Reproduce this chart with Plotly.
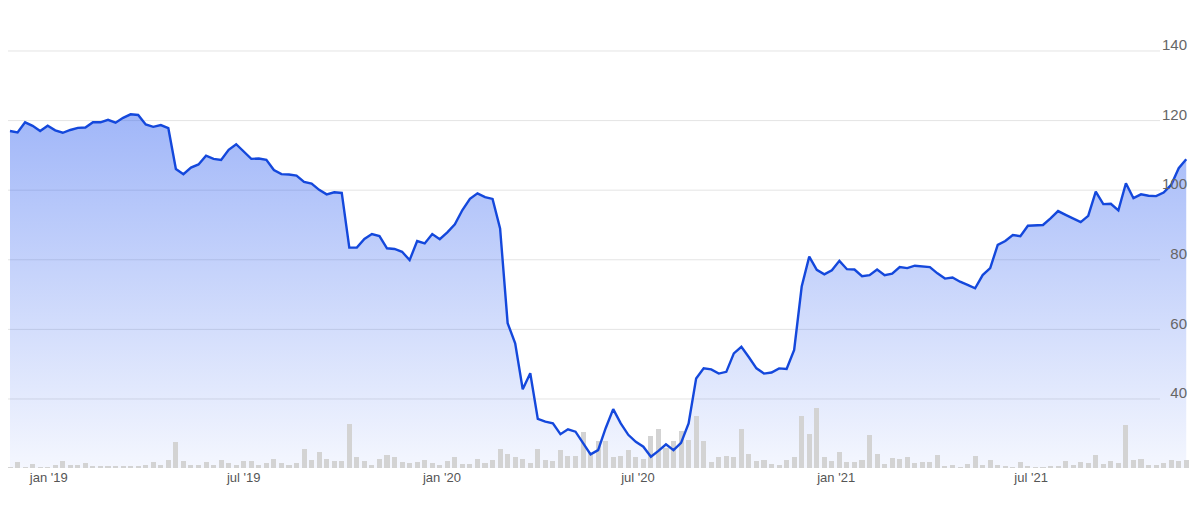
import pandas as pd
import plotly.graph_objects as go

# ---- data (weekly) ----
start_date = "2018-11-26"
price = [117.0, 116.6, 119.5, 118.5, 117.0, 118.5, 117.2, 116.5, 117.3, 117.9,
         118.0, 119.5, 119.5, 120.2, 119.4, 120.8, 121.8, 121.6, 118.9, 118.2,
         118.7, 117.8, 106.1, 104.6, 106.5, 107.4, 109.9, 109.0, 108.7, 111.6,
         113.2, 111.1, 109.0, 109.1, 108.7, 105.8, 104.6, 104.5, 104.2, 102.4,
         101.9, 100.1, 98.8, 99.4, 99.2, 83.5, 83.5, 86.0, 87.4, 86.8,
         83.3, 83.1, 82.3, 79.9, 85.4, 84.7, 87.4, 85.9, 87.9, 90.2,
         94.3, 97.5, 99.1, 98.0, 97.5, 89.0, 61.8, 56.0, 42.8, 47.4,
         34.3, 33.5, 33.0, 29.9, 31.3, 30.6, 27.4, 24.1, 25.3, 31.6,
         37.1, 33.0, 29.7, 27.7, 26.3, 23.4, 25.1, 27.0, 25.3, 27.4,
         33.0, 45.9, 48.8, 48.5, 47.3, 47.8, 53.1, 55.0, 52.0, 48.8,
         47.3, 47.6, 48.8, 48.6, 54.1, 72.3, 80.9, 77.1, 75.8, 77.0,
         79.7, 77.3, 77.2, 75.3, 75.6, 77.2, 75.6, 76.0, 77.9, 77.6,
         78.3, 78.0, 77.9, 76.1, 74.6, 74.9, 73.7, 72.8, 71.8, 75.6,
         77.6, 84.3, 85.4, 87.1, 86.8, 89.8, 89.9, 90.0, 91.9, 94.0,
         92.9, 91.9, 90.8, 92.6, 99.6, 96.0, 96.1, 94.2, 102.0, 97.7,
         98.8, 98.4, 98.3, 99.3, 101.5, 106.3, 108.9]

volume = [1.0, 5.7, 1.0, 4.3, 0.7, 0.7, 3.3, 7.3, 3.3, 3.3,
          4.7, 2.0, 1.3, 1.3, 2.0, 2.0, 1.3, 2.0, 3.3, 5.7,
          3.3, 8.3, 26.3, 7.0, 3.3, 3.3, 5.7, 3.3, 8.3, 4.7,
          3.3, 7.3, 7.3, 3.3, 4.7, 9.3, 5.5, 3.3, 4.7, 19.3,
          8.3, 15.7, 9.0, 7.3, 7.3, 44.3, 10.7, 7.3, 3.3, 9.3,
          13.3, 10.7, 5.8, 5.0, 5.8, 8.3, 5.0, 3.3, 7.3, 10.7,
          4.0, 3.7, 9.3, 5.0, 8.3, 19.3, 14.3, 10.8, 9.3, 4.7,
          19.3, 8.3, 7.3, 18.2, 12.3, 12.3, 36.0, 15.0, 26.7, 27.3,
          10.7, 12.3, 17.7, 10.7, 9.3, 32.3, 39.3, 20.0, 27.3, 36.7,
          28.3, 52.5, 27.3, 5.8, 10.8, 12.3, 10.8, 39.5, 14.3, 7.3,
          8.3, 3.8, 3.3, 8.3, 10.8, 51.7, 33.7, 60.0, 10.8, 7.3,
          15.7, 5.8, 5.8, 8.3, 33.3, 14.3, 4.3, 9.6, 8.8, 10.8,
          5.0, 5.8, 5.8, 13.3, 2.3, 3.3, 1.0, 4.3, 12.3, 3.3,
          8.3, 3.3, 2.3, 0.7, 5.7, 2.3, 0.7, 0.3, 1.7, 2.3,
          7.3, 3.3, 5.7, 5.0, 13.3, 4.3, 7.3, 5.0, 43.3, 8.3,
          9.3, 3.3, 3.3, 5.0, 8.3, 7.3, 8.3]

y_ticks = [40, 60, 80, 100, 120, 140]
y_labels = ["40", "60", "80", "100", "120", "140"]
x_ticks = ["2019-01-01", "2019-07-01", "2020-01-01", "2020-07-01", "2021-01-01", "2021-07-01"]
x_labels = ["jan '19", "jul '19", "jan '20", "jul '20", "jan '21", "jul '21"]

dates = pd.date_range(start_date, periods=len(price), freq="7D")

# ---- layout geometry (page body adds an 8px offset) ----
W, H = 1201, 512
ml, mr, mt, mb = 0, 19, 12, 52
plot_w = W - ml - mr
plot_h = H - mt - mb
px_per_day = 7.54 / 7.0
x0 = dates[0] - pd.Timedelta(days=2 / px_per_day)
x1 = x0 + pd.Timedelta(days=plot_w / px_per_day)
y_range = [20.17, 148.9]

fig = go.Figure()

# area fill
fig.add_trace(go.Scatter(
    x=dates, y=price, mode="lines", line=dict(width=0, color="rgba(0,0,0,0)"),
    fill="tozeroy",
    fillgradient=dict(type="vertical", start=y_range[0], stop=122,
                      colorscale=[[0, "rgba(40,90,240,0.05)"], [1, "rgba(40,90,240,0.44)"]]),
    hoverinfo="skip", showlegend=False, yaxis="y"))

# volume bars
fig.add_trace(go.Bar(
    x=dates, y=volume, marker=dict(color="#d3d3d3", line=dict(width=0)),
    width=4.7 * 86400000, showlegend=False, yaxis="y2"))

# price line
fig.add_trace(go.Scatter(
    x=dates, y=price, mode="lines", line=dict(color="#1448dc", width=2.4),
    showlegend=False, yaxis="y3"))

# gridlines (stop short of the tick labels)
for v in y_ticks:
    fig.add_shape(type="line", xref="paper", yref="y", x0=0, x1=(1152 - ml) / plot_w,
                  y0=v, y1=v, line=dict(color="#e4e4e4", width=1), layer="below")

fig.update_layout(
    width=W, height=H,
    margin=dict(l=ml, r=mr, t=mt, b=mb),
    paper_bgcolor="white", plot_bgcolor="white",
    font=dict(family="Liberation Sans, Arial, sans-serif"),
    bargap=0,
    xaxis=dict(type="date", range=[x0, x1], tickvals=x_ticks, ticktext=x_labels,
               showgrid=False, zeroline=False, showline=False, ticks="",
               tickfont=dict(size=13, color="#555555")),
    yaxis=dict(range=y_range, side="right", tickvals=y_ticks, ticktext=y_labels,
               ticklabelposition="inside", ticklabelshift=-6, ticklabelstandoff=0,
               showgrid=False, zeroline=False, showline=False, ticks="",
               tickfont=dict(size=15, color="#666666")),
    yaxis2=dict(range=[0, plot_h], overlaying="y", visible=False),
    yaxis3=dict(overlaying="y", matches="y", visible=False),
)

fig.write_html("out.html")
